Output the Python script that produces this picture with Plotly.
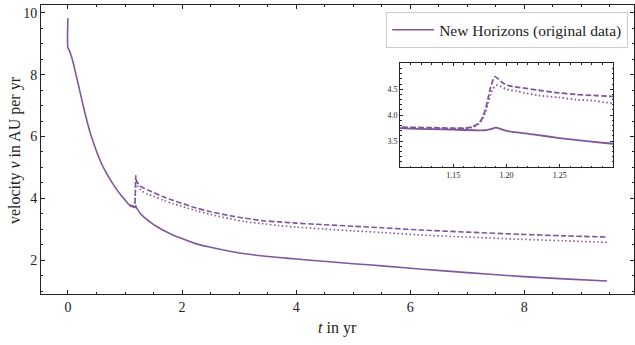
import plotly.graph_objects as go

# ---- data ----
t_solid = [0, 0, 0.02, 0.05, 0.09, 0.13, 0.18, 0.225, 0.27, 0.32, 0.385, 0.45, 0.53, 0.6,
           0.68, 0.76, 0.85, 0.93, 1.0, 1.05, 1.1, 1.13, 1.15, 1.17, 1.18, 1.185, 1.19,
           1.195, 1.2, 1.225, 1.25, 1.275, 1.3, 1.38, 1.46, 1.55, 1.67, 1.84, 2.0, 2.25,
           2.5, 2.84, 3.1, 3.42, 3.7, 4.0, 4.59, 5.0, 5.5, 6.16, 7.0, 7.92, 8.7, 9.45]
v_solid = [9.82, 8.86, 8.80, 8.65, 8.40, 8.08, 7.70, 7.33, 6.97, 6.60, 6.15, 5.78, 5.38, 5.08,
           4.80, 4.55, 4.30, 4.10, 3.95, 3.84, 3.75, 3.73, 3.72, 3.71, 3.71, 3.73, 3.76,
           3.73, 3.70, 3.63, 3.56, 3.50, 3.45, 3.32, 3.21, 3.10, 2.97, 2.82, 2.70, 2.53,
           2.42, 2.29, 2.21, 2.14, 2.09, 2.04, 1.95, 1.89, 1.82, 1.72, 1.60, 1.48, 1.40, 1.33]

t_dashed = [1.08, 1.1, 1.13, 1.15, 1.16, 1.167, 1.172, 1.176, 1.18, 1.183, 1.186, 1.189, 1.192,
            1.196, 1.2, 1.21, 1.217, 1.23, 1.249, 1.265, 1.281, 1.3, 1.4, 1.5, 1.67, 1.84,
            2.0, 2.25, 2.5, 2.84, 3.1, 3.42, 3.7, 4.0, 4.5, 5.0, 5.5, 6.16, 7.0, 7.92, 8.7, 9.45]
v_dashed = [3.80, 3.77, 3.76, 3.75, 3.75, 3.77, 3.82, 3.90, 4.10, 4.35, 4.60, 4.74, 4.70,
            4.63, 4.58, 4.54, 4.52, 4.48, 4.43, 4.40, 4.38, 4.36, 4.27, 4.19, 4.05, 3.94,
            3.84, 3.69, 3.57, 3.44, 3.36, 3.28, 3.24, 3.20, 3.15, 3.10, 3.05, 2.98, 2.91,
            2.84, 2.79, 2.75]

t_dotted = [1.08, 1.1, 1.13, 1.15, 1.16, 1.167, 1.172, 1.176, 1.18, 1.183, 1.186, 1.19, 1.194,
            1.2, 1.21, 1.217, 1.23, 1.25, 1.265, 1.281, 1.3, 1.4, 1.5, 1.67, 1.84, 2.0, 2.25,
            2.5, 2.84, 3.1, 3.42, 3.7, 4.0, 4.5, 5.0, 5.5, 6.16, 7.0, 7.92, 8.7, 9.45]
v_dotted = [3.79, 3.76, 3.75, 3.74, 3.74, 3.76, 3.80, 3.88, 4.05, 4.25, 4.45, 4.57, 4.56,
            4.50, 4.46, 4.43, 4.38, 4.34, 4.30, 4.28, 4.23, 4.14, 4.07, 3.94, 3.83, 3.74,
            3.60, 3.48, 3.34, 3.25, 3.18, 3.12, 3.07, 3.01, 2.95, 2.90, 2.82, 2.75, 2.68,
            2.63, 2.58]

legend_label = "New Horizons (original data)"
x_title = "<i>t</i> in yr"
y_title = "velocity <i>v</i> in AU per yr"
main_xticks = [0, 2, 4, 6, 8]
main_yticks = [2, 4, 6, 8, 10]
inset_xticks = [1.15, 1.20, 1.25]
inset_yticks = [3.5, 4.0, 4.5]

COLOR = "#7e579d"
FONT = "Liberation Serif"
DASH = "5.5px,2.4px"
DOT = "1.5px,2.5px"

fig = go.Figure()


def add(x, y, axes, width, dash=None, name=None, legend=False):
    fig.add_trace(go.Scatter(
        x=x, y=y, mode="lines", name=name, showlegend=legend,
        line=dict(color=COLOR, width=width, dash=dash, shape="spline", smoothing=0.8),
        xaxis=axes[0], yaxis=axes[1]))


# main axes
add(t_solid, v_solid, ("x", "y"), 1.6, None, legend_label, True)
add(t_dashed, v_dashed, ("x", "y"), 1.6, DASH)
add(t_dotted, v_dotted, ("x", "y"), 1.6, DOT)
# inset axes
add(t_solid, v_solid, ("x2", "y2"), 1.8)
add(t_dashed, v_dashed, ("x2", "y2"), 1.8, DASH)
add(t_dotted, v_dotted, ("x2", "y2"), 1.8, DOT)

axis_common = dict(showline=True, linecolor="#222", linewidth=1, mirror="ticks",
                   ticks="inside", tickcolor="#222", showgrid=False, zeroline=False,
                   automargin=False)

fig.update_layout(
    width=635, height=345,
    margin=dict(l=41, r=1, t=5, b=51, autoexpand=False),
    paper_bgcolor="white", plot_bgcolor="white",
    font=dict(family=FONT, color="#222", size=14),
    xaxis=dict(**axis_common, domain=[0, 1], range=[-0.4725, 9.9225],
               tickvals=main_xticks, ticklen=4, tickwidth=1,
               minor=dict(dtick=0.5, ticks="inside", ticklen=2, tickcolor="#222"),
               tickfont=dict(size=14, family=FONT)),
    yaxis=dict(**axis_common, domain=[0, 1], range=[0.91, 10.25],
               tickvals=main_yticks, ticklen=4, tickwidth=1,
               minor=dict(dtick=0.5, ticks="inside", ticklen=2, tickcolor="#222"),
               tickfont=dict(size=14, family=FONT)),
    xaxis2=dict(**axis_common, anchor="y2", domain=[0.6054, 0.9646], range=[1.1, 1.3],
                tickvals=inset_xticks, tickformat=".2f", ticklen=3, tickwidth=1,
                minor=dict(dtick=0.01, ticks="inside", ticklen=1.5, tickcolor="#222"),
                tickfont=dict(size=8, family=FONT)),
    yaxis2=dict(**axis_common, anchor="x2", domain=[0.439, 0.7985], range=[3.0, 5.0],
                tickvals=inset_yticks, tickformat=".1f", ticklen=3, tickwidth=1,
                minor=dict(dtick=0.1, ticks="inside", ticklen=1.5, tickcolor="#222"),
                tickfont=dict(size=8, family=FONT)),
    legend=dict(x=0.582, y=0.975, xanchor="left", yanchor="top",
                bgcolor="white", bordercolor="#cccccc", borderwidth=1,
                font=dict(size=15.5, family=FONT), itemwidth=42, tracegroupgap=0),
    showlegend=True,
    annotations=[
        dict(text=x_title, xref="paper", yref="paper", x=0.5008, y=-0.1176,
             xanchor="center", yanchor="middle", showarrow=False,
             font=dict(size=16, family=FONT, color="#222")),
        dict(text=y_title, xref="paper", yref="paper", x=-0.0438, y=0.498,
             xanchor="center", yanchor="middle", showarrow=False, textangle=-90,
             font=dict(size=16, family=FONT, color="#222")),
    ],
)

fig.write_html("out.html", config={"displayModeBar": False},
               post_script="document.body.style.margin='0';document.body.style.padding='0';")
